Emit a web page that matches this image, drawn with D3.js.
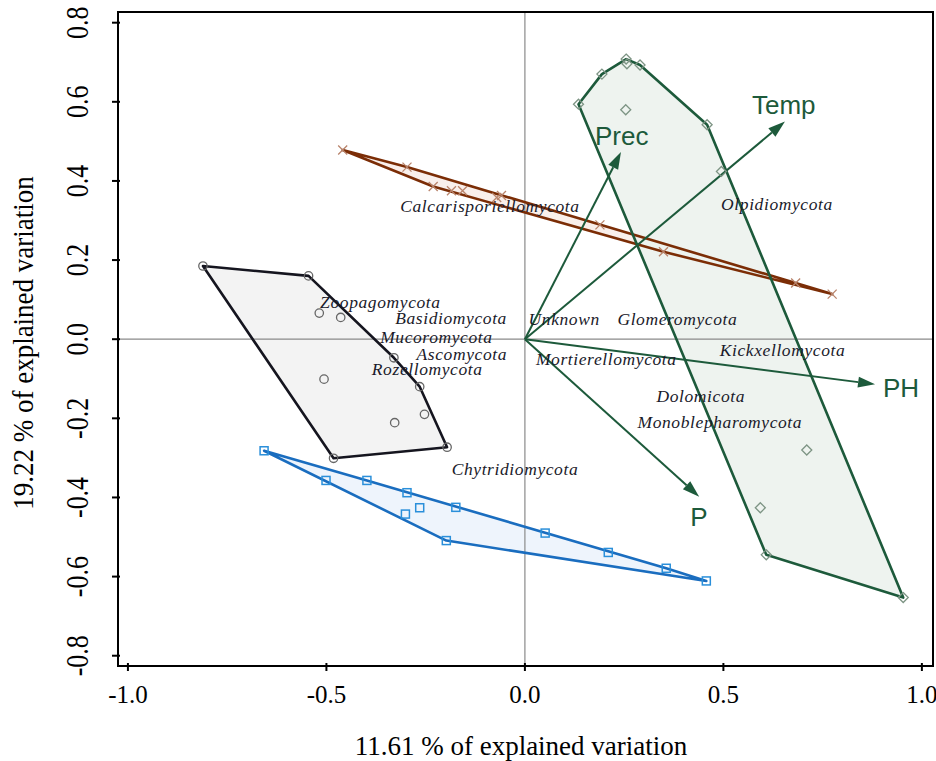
<!DOCTYPE html>
<html>
<head>
<meta charset="utf-8">
<script src="https://cdn.jsdelivr.net/npm/d3@7"></script>
<style>
  body { margin: 0; background: #fff; }
  svg { display: block; }
</style>
</head>
<body>
<div class="chart"></div>
<script>
// sample scores per group (axis 1, axis 2)
const circlePts = [[-0.811, 0.185], [-0.545, 0.160], [-0.518, 0.066], [-0.464, 0.055], [-0.330, -0.047],
  [-0.265, -0.120], [-0.253, -0.190], [-0.328, -0.211], [-0.506, -0.101], [-0.196, -0.273], [-0.482, -0.301]];
const squarePts = [[-0.657, -0.282], [-0.501, -0.357], [-0.398, -0.357], [-0.297, -0.388], [-0.174, -0.425],
  [-0.265, -0.426], [-0.301, -0.442], [-0.198, -0.509], [0.051, -0.490], [0.210, -0.539], [0.356, -0.579], [0.457, -0.611]];
const diamondPts = [[0.135, 0.594], [0.194, 0.670], [0.255, 0.708], [0.257, 0.696], [0.290, 0.693], [0.459, 0.542],
  [0.254, 0.580], [0.495, 0.424], [0.710, -0.280], [0.593, -0.426], [0.608, -0.545], [0.953, -0.653]];
const crossPts = [[-0.459, 0.478], [-0.297, 0.435], [-0.231, 0.386], [-0.185, 0.375], [-0.157, 0.375], [-0.071, 0.358],
  [-0.059, 0.363], [0.189, 0.289], [0.349, 0.221], [0.682, 0.142], [0.774, 0.114]];

// environmental vectors
const envNames = ['Prec', 'Temp', 'PH', 'P'];
const envX = [0.242, 0.655, 0.882, 0.439];
const envY = [0.473, 0.550, -0.114, -0.398];

// phyla (label positions = species scores)
const phyla = ['Calcarisporiellomycota', 'Olpidiomycota', 'Zoopagomycota', 'Basidiomycota', 'Unknown', 'Glomeromycota',
  'Mucoromycota', 'Ascomycota', 'Rozellomycota', 'Mortierellomycota', 'Kickxellomycota', 'Dolomicota',
  'Monoblepharomycota', 'Chytridiomycota'];
const phylaX = [-0.088, 0.635, -0.364, -0.186, 0.099, 0.384, -0.223, -0.159, -0.246, 0.205, 0.649, 0.443, 0.491, -0.025];
const phylaY = [0.322, 0.327, 0.079, 0.039, 0.036, 0.036, -0.009, -0.052, -0.090, -0.065, -0.042, -0.158, -0.224, -0.343];

const xTicks = [-1.0, -0.5, 0.0, 0.5, 1.0];
const yTicks = [-0.8, -0.6, -0.4, -0.2, 0.0, 0.2, 0.4, 0.6, 0.8];
const xTitle = '11.61 % of explained variation';
const yTitle = '19.22 % of explained variation';

const w = 936;
const h = 761;
const box = { left: 118, right: 933, top: 12, bottom: 666 };
const green = '#1d5a3b';
const serif = '"Liberation Serif", "Times New Roman", serif';
const fmt = d => d3.format('.1f')(d).replace('\u2212', '-');

const svg = d3.select('.chart')
  .append('svg')
  .attr('width', w)
  .attr('height', h);

const x = d3.scaleLinear().domain([-1.025, 1.028]).range([box.left, box.right]);
const y = d3.scaleLinear().domain([-0.826, 0.827]).range([box.bottom, box.top]);

const groups = [
  { pts: crossPts, fill: '#f9efeb', stroke: '#7b2d06', mark: 'cross', markColor: '#b9846c' },
  { pts: circlePts, fill: '#f3f3f3', stroke: '#15151f', mark: 'circle', markColor: '#666' },
  { pts: squarePts, fill: '#eef4fc', stroke: '#1a6dbf', mark: 'square', markColor: '#2a8fda' },
  { pts: diamondPts, fill: '#eef3ef', stroke: green, mark: 'diamond', markColor: '#7d9484' }
];

groups.forEach(g => {
  g.hull = d3.polygonHull(g.pts.map(d => [x(d[0]), y(d[1])]));
});

// hull fills
svg.append('g')
  .selectAll('path')
  .data(groups)
  .enter()
  .append('path')
  .attr('d', g => 'M' + g.hull.join('L') + 'Z')
  .attr('fill', g => g.fill)
  .attr('stroke', 'none');

// zero lines
svg.append('line')
  .attr('x1', box.left).attr('x2', box.right)
  .attr('y1', y(0)).attr('y2', y(0))
  .attr('stroke', '#8a8a8a').attr('stroke-width', 1.2);
svg.append('line')
  .attr('x1', x(0)).attr('x2', x(0))
  .attr('y1', box.top).attr('y2', box.bottom)
  .attr('stroke', '#8a8a8a').attr('stroke-width', 1.2);

// hull outlines
svg.append('g')
  .selectAll('path')
  .data(groups)
  .enter()
  .append('path')
  .attr('d', g => 'M' + g.hull.join('L') + 'Z')
  .attr('fill', 'none')
  .attr('stroke', g => g.stroke)
  .attr('stroke-width', 2.6)
  .attr('stroke-linejoin', 'round');

// arrows
const arrows = svg.append('g');
envNames.forEach((name, i) => {
  const x0 = x(0), y0 = y(0);
  const x1 = x(envX[i]), y1 = y(envY[i]);
  const ang = Math.atan2(y1 - y0, x1 - x0);
  const len = 17, half = 5.5;
  const bx = x1 - len * Math.cos(ang), by = y1 - len * Math.sin(ang);
  arrows.append('line')
    .attr('x1', x0).attr('y1', y0)
    .attr('x2', bx).attr('y2', by)
    .attr('stroke', green).attr('stroke-width', 2);
  const px = -Math.sin(ang) * half, py = Math.cos(ang) * half;
  arrows.append('path')
    .attr('d', `M${x1},${y1}L${bx + px},${by + py}L${bx - px},${by - py}Z`)
    .attr('fill', green);
});

// markers
const marks = svg.append('g').attr('fill', 'none');
groups.forEach(g => {
  g.pts.forEach(d => {
    const cx = x(d[0]), cy = y(d[1]);
    if (g.mark === 'circle') {
      marks.append('circle').attr('cx', cx).attr('cy', cy).attr('r', 4.2)
        .attr('stroke', g.markColor).attr('stroke-width', 1.3);
    } else if (g.mark === 'square') {
      marks.append('rect').attr('x', cx - 4).attr('y', cy - 4).attr('width', 8).attr('height', 8)
        .attr('stroke', g.markColor).attr('stroke-width', 1.5);
    } else if (g.mark === 'diamond') {
      marks.append('path').attr('d', `M${cx},${cy - 5}L${cx + 5},${cy}L${cx},${cy + 5}L${cx - 5},${cy}Z`)
        .attr('stroke', g.markColor).attr('stroke-width', 1.3);
    } else {
      marks.append('path').attr('d', `M${cx - 4.5},${cy - 4.5}L${cx + 4.5},${cy + 4.5}M${cx - 4.5},${cy + 4.5}L${cx + 4.5},${cy - 4.5}`)
        .attr('stroke', g.markColor).attr('stroke-width', 1.3);
    }
  });
});

// phyla labels
svg.append('g')
  .selectAll('text')
  .data(phyla)
  .enter()
  .append('text')
  .attr('x', (d, i) => x(phylaX[i]))
  .attr('y', (d, i) => y(phylaY[i]))
  .attr('text-anchor', 'middle')
  .attr('font-family', serif)
  .attr('font-style', 'italic')
  .attr('font-size', 17.5)
  .attr('letter-spacing', 0.6)
  .attr('fill', '#1a1a2a')
  .text(d => d);

// arrow labels
const envLabelOffset = [[-26, -7], [-33, -8], [8, 13], [-9, 29]];
svg.append('g')
  .selectAll('text')
  .data(envNames)
  .enter()
  .append('text')
  .attr('x', (d, i) => x(envX[i]) + envLabelOffset[i][0])
  .attr('y', (d, i) => y(envY[i]) + envLabelOffset[i][1])
  .attr('font-family', '"Liberation Sans", Arial, sans-serif')
  .attr('font-size', 26)
  .attr('fill', green)
  .text(d => d);

// frame
svg.append('rect')
  .attr('x', box.left).attr('y', box.top)
  .attr('width', box.right - box.left).attr('height', box.bottom - box.top)
  .attr('fill', 'none').attr('stroke', '#000').attr('stroke-width', 2);

// ticks
svg.append('g')
  .selectAll('line')
  .data(xTicks)
  .enter()
  .append('line')
  .attr('x1', d => x(d)).attr('x2', d => x(d))
  .attr('y1', box.bottom - 3).attr('y2', box.bottom + 5)
  .attr('stroke', '#000').attr('stroke-width', 2);
svg.append('g')
  .selectAll('line')
  .data(yTicks)
  .enter()
  .append('line')
  .attr('x1', box.left - 6).attr('x2', box.left + 2)
  .attr('y1', d => y(d)).attr('y2', d => y(d))
  .attr('stroke', '#000').attr('stroke-width', 2);

svg.append('g')
  .selectAll('text')
  .data(xTicks)
  .enter()
  .append('text')
  .attr('x', d => x(d))
  .attr('y', 703)
  .attr('text-anchor', 'middle')
  .attr('font-family', serif)
  .attr('font-size', 25)
  .attr('fill', '#000')
  .text(fmt);

svg.append('g')
  .selectAll('text')
  .data(yTicks)
  .enter()
  .append('text')
  .attr('transform', d => `translate(88,${y(d)}) rotate(-90) scale(1,1.2)`)
  .attr('text-anchor', 'middle')
  .attr('font-family', serif)
  .attr('font-size', 26)
  .attr('fill', '#000')
  .text(fmt);

// axis titles
svg.append('text')
  .attr('x', 521)
  .attr('y', 755)
  .attr('text-anchor', 'middle')
  .attr('font-family', serif)
  .attr('font-size', 27)
  .attr('fill', '#000')
  .text(xTitle);

svg.append('text')
  .attr('transform', 'translate(33,343) rotate(-90) scale(1,1.1)')
  .attr('text-anchor', 'middle')
  .attr('font-family', serif)
  .attr('font-size', 27)
  .attr('fill', '#000')
  .text(yTitle);
</script>
</body>
</html>
